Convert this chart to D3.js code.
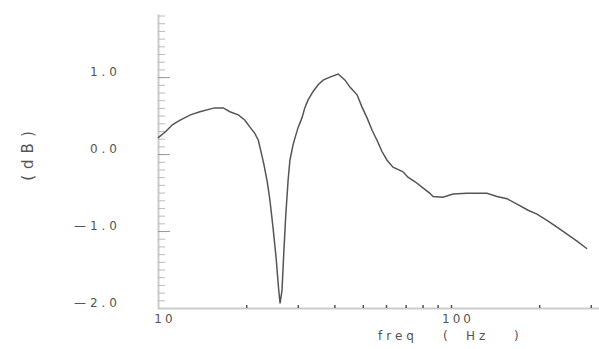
<!DOCTYPE html>
<html>
<head>
<meta charset="utf-8">
<script src="https://cdn.jsdelivr.net/npm/d3@7"></script>
<style>
  body { margin: 0; background: #fff; }
  svg { display: block; }
  text { font-family: "DejaVu Sans", sans-serif; fill: #555; }
</style>
</head>
<body>
<figure id="graph" style="margin:0"></figure>
<script>
// response curve (freq in Hz, level in dB)
const freq = [10, 10.6, 11.2, 11.9, 12.9, 13.9, 15.6, 16.7, 17.6, 18.8, 19.8, 20.6, 21.4, 22.0, 22.6, 23.0,
  23.6, 24.1, 24.7, 25.3, 25.8, 26.1, 26.5, 26.9, 27.3, 27.8, 28.2, 28.9, 29.4, 30.1, 31.0, 31.7, 32.5,
  33.8, 35.2, 36.6, 38.6, 41.2, 43.5, 45.2, 47.8, 49.7, 51.7, 53.8, 55.9, 58.2, 60.5, 63.4, 68.6, 71.3,
  75.4, 80.2, 84.8, 86.8, 93.9, 101.6, 113.4, 132.7, 143.5, 155.3, 168.0, 183.2, 196.6, 212.6, 230.0,
  248.9, 269.2, 291.2];
const gain = [0.21, 0.29, 0.38, 0.44, 0.51, 0.55, 0.60, 0.60, 0.55, 0.51, 0.44, 0.35, 0.27, 0.18, -0.01, -0.14,
  -0.36, -0.60, -0.96, -1.35, -1.75, -1.94, -1.77, -1.25, -0.79, -0.34, -0.08, 0.12, 0.22, 0.35, 0.47, 0.60, 0.70,
  0.81, 0.90, 0.96, 1.00, 1.04, 0.96, 0.87, 0.77, 0.61, 0.47, 0.31, 0.18, 0.03, -0.08, -0.17, -0.23, -0.30,
  -0.36, -0.44, -0.51, -0.55, -0.56, -0.52, -0.51, -0.51, -0.55, -0.58, -0.65, -0.73, -0.78, -0.86, -0.95,
  -1.04, -1.13, -1.23];

const yTicks = [1, 0, -1, -2];
const yTickLabels = ['1.0', '0.0', '\u20141.0', '\u20142.0'];
const xTicks = [10, 100];
const xTickLabels = ['10', '100'];
const xMinorTicks = [20, 30, 40, 50, 60, 70, 80, 90, 100, 200, 300];
const xTitle = ['freq', '(', 'Hz', ')'];

const width = 599;
const height = 349;

const svg = d3.select('figure#graph')
  .append('svg')
  .attr('width', width)
  .attr('height', height);

const xScale = d3.scaleLog().domain([10, 320]).range([158, 599]);
const yScale = d3.scaleLinear().domain([-2, 1.82]).range([308, 14]);

// y axis: minor ticks every 0.1, longer ones at the labelled values
const yMinor = d3.range(-20, 19).map(d => d / 10);
svg.append('g')
  .attr('transform', `translate(${xScale(10)}, 0)`)
  .call(d3.axisRight(yScale).tickValues(yMinor).tickSize(7).tickSizeOuter(0).tickFormat(''))
  .call(g => g.select('.domain').attr('stroke', '#ccc').attr('stroke-width', 2))
  .call(g => g.selectAll('.tick line').attr('stroke', '#bbb'));

svg.append('g')
  .attr('transform', `translate(${xScale(10)}, 0)`)
  .call(d3.axisRight(yScale).tickValues(yTicks).tickSize(12).tickSizeOuter(0).tickFormat(''))
  .call(g => g.select('.domain').remove())
  .call(g => g.selectAll('.tick line').attr('stroke', '#999'));

svg.append('g')
  .selectAll('text')
  .data(yTicks)
  .join('text')
  .attr('x', 121)
  .attr('y', d => yScale(d) - 1)
  .attr('text-anchor', 'end')
  .attr('font-size', 12)
  .attr('letter-spacing', 4)
  .text((d, i) => yTickLabels[i]);

// x axis
svg.append('g')
  .attr('transform', `translate(0, ${yScale(-2)})`)
  .call(d3.axisTop(xScale).tickValues(xMinorTicks).tickSize(3).tickSizeOuter(0).tickFormat(''))
  .call(g => g.select('.domain').attr('stroke', '#ccc').attr('stroke-width', 2))
  .call(g => g.selectAll('.tick line').attr('stroke', '#555').attr('stroke-width', 1.5));

svg.append('g')
  .selectAll('text')
  .data(xTicks)
  .join('text')
  .attr('x', d => xScale(d) + 7)
  .attr('y', 323)
  .attr('text-anchor', 'middle')
  .attr('font-size', 12)
  .attr('letter-spacing', 3)
  .text((d, i) => xTickLabels[i]);

// axis titles, spread out like the original plot
const titleX = [378, 443, 466, 514];
svg.append('text')
  .attr('y', 340)
  .attr('font-size', 12)
  .attr('letter-spacing', 4)
  .selectAll('tspan')
  .data(xTitle)
  .join('tspan')
  .attr('x', (d, i) => titleX[i])
  .text(d => d);

svg.append('text')
  .attr('transform', 'translate(33, 153) rotate(-90)')
  .attr('text-anchor', 'middle')
  .attr('font-size', 15)
  .attr('letter-spacing', 6)
  .text('(dB)');

// the curve
svg.append('path')
  .datum(freq.map((f, i) => [f, gain[i]]))
  .attr('fill', 'none')
  .attr('stroke', '#555')
  .attr('stroke-width', 1.5)
  .attr('d', d3.line()
    .x(d => xScale(d[0]))
    .y(d => yScale(d[1]))
  );
</script>
</body>
</html>
